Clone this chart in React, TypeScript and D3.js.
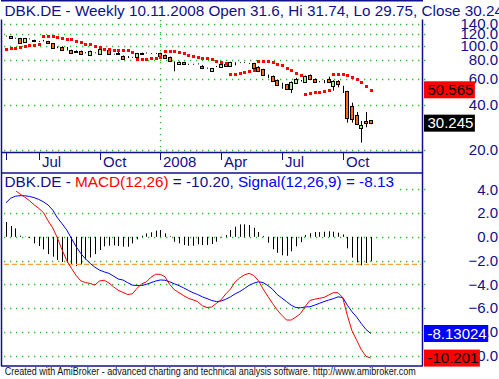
import React from "react";
import * as d3 from "d3";

// ---- data (weekly bars, DBK.DE) ----
const openP = [115.5,115.3,112,112,106,110.6,108.2,106.1,107.8,106.7,103.4,97.4,97.8,95.3,93,92,92,89.4,87.1,89.4,87.6,94.4,93.4,87.6,88.6,85.1,83.8,83.4,83.8,88.8,89,88.3,88.3,89,86.4,83.8,76.4,74.9,77.3,74.9,74.9,75.3,73.4,70.5,67.2,72.3,71.5,75.3,73,76.8,76.8,76.8,76,76,72.3,69.4,62.8,62.5,58.8,54.9,54.9,51.4,56.4,58.1,57.3,63.5,59.7,57.3,57.3,59.7,53.8,58.1,53.1,49.6,39.6,34.5,28,31.3,31.6];
const highP = [116.5,116,112.8,112.5,112.5,111.5,109.5,107,109,107.5,104,98.6,99,97.8,93.8,92.8,92.5,90.3,92.5,90,95.5,95.5,94,88.2,90.5,85.8,85,84,89.2,89.6,89.8,88.9,89,89.6,87,84.3,78.3,78.2,77.8,75.5,75.5,76,74,71.2,70.9,73,75.8,75.8,78,77.3,77.3,77.3,76.5,76.5,72.8,69.9,64,63,59.3,56.4,55.4,57.5,60.8,58.8,63,64,60.2,57.8,58.8,61.9,58.6,58.6,53.8,49.8,41.4,35.9,31.3,35.9,31.74];
const lowP = [115,111.5,111.3,104,105.5,110,106.5,105.5,106.5,103,96.5,96,92.8,92.6,89,89.5,88,88.8,86.8,88.8,87.2,93.8,88,87,86.4,81.3,82.5,82.8,83.4,87.9,88.5,87.8,87.8,85.2,82.8,78,67.2,74.5,74.5,74.3,74.3,74.8,70.2,70,66.5,71.8,71,72.3,72.6,73.8,76.3,76.3,75.5,70.8,67.7,63.4,60.5,57.8,54.3,51.4,51.1,48.1,55.9,57.5,56.8,59.7,57,56.8,56,56.7,49.9,52.5,48.1,30.5,30.5,29.7,22.4,28.4,29.75];
const closeP = [115.3,112,112,104.5,112,110.6,107.6,106.1,107.8,103.4,96.8,97.4,93.8,95.3,89.4,90,88.3,89.4,92,89.4,94.9,94.4,88.3,87.6,88,81.6,83.8,83.4,88.6,88.4,89,88.3,88.3,85.5,83.1,78.3,76.4,77.6,74.9,74.9,74.9,75.3,70.5,70.5,70.5,72.3,75.3,72.7,77.6,76.8,76.8,76.8,76,71.1,68,63.7,62.8,58.1,54.6,54.9,51.4,57,59.7,58.1,62.5,60,57.3,57.3,57.3,57,58.1,54.9,53.1,32.5,32.1,30,29.4,30.2,30.245];
const sarP = [94.4,95.8,96.3,97.4,98.9,100.4,100.4,101.9,116.4,116.4,115.7,114.5,112.8,111.1,110.1,107.8,105.1,102.9,101.9,99.3,97.3,95.3,95.3,93.4,93,93,93,90,80.9,80.9,80.9,82.1,82.1,83.4,91.5,91.5,91.5,90,88.6,86.7,85.3,84,82.7,82,80.9,79.1,78.1,76.8,64.3,64.3,65.9,66.6,68,68.4,78.5,78.5,78.5,77.3,74.8,73.8,70.8,68.4,65.6,63.2,47.5,48.1,48.8,48.8,49.4,50.2,64.3,64.3,64.3,63.2,61.3,59.5,56.8,53.3,50.565];
const macdV = [4.1,4.05,3.9,3.6,3.35,3.05,2.7,2.4,2.05,1.35,0.75,-0.1,-1.1,-2,-2.65,-3.25,-3.7,-3.85,-3.92,-4.06,-3.72,-3.65,-3.88,-4.2,-4.5,-4.67,-4.85,-4.8,-4.35,-3.95,-3.8,-3.4,-3.15,-3.15,-3.36,-4,-4.45,-4.7,-4.95,-5.17,-5.3,-5.45,-5.8,-5.95,-5.9,-5.6,-5.3,-4.8,-4.4,-3.8,-3.45,-3.2,-3.07,-3.25,-3.7,-4.4,-5,-5.6,-6.15,-6.6,-7,-7,-6.75,-6.45,-5.85,-5.35,-5.25,-5.17,-5.1,-4.9,-4.7,-4.7,-5.1,-6.6,-7.9,-8.7,-9.5,-10.05,-10.201];
const signalV = [2.87,3.25,3.42,3.46,3.46,3.4,3.3,3.15,2.95,2.68,2.25,1.6,1.1,0.57,-0.13,-0.83,-1.4,-1.85,-2.23,-2.55,-2.8,-2.95,-3.07,-3.3,-3.55,-3.63,-3.85,-4.06,-4.1,-4.1,-4,-3.86,-3.72,-3.63,-3.65,-3.78,-3.95,-4.1,-4.3,-4.5,-4.7,-4.85,-5.05,-5.2,-5.35,-5.45,-5.4,-5.25,-5.05,-4.8,-4.6,-4.35,-4.08,-3.9,-3.78,-3.85,-4.1,-4.4,-4.85,-5.15,-5.45,-5.75,-5.95,-5.97,-5.9,-5.88,-5.75,-5.6,-5.45,-5.32,-5.2,-5.05,-5.1,-5.75,-6.3,-6.75,-7.3,-7.8,-8.13024];
const histV = [1.25,0.91,0.71,0.1,0.02,-0.1,-0.55,-0.77,-1.05,-1.45,-1.67,-1.95,-2.12,-2.18,-2.37,-2.46,-2.32,-1.9,-1.73,-1.45,-1.11,-0.8,-0.75,-0.72,-0.77,-0.83,-0.83,-0.55,-0.21,0.1,0.29,0.38,0.52,0.57,0.29,0.05,-0.41,-0.55,-0.69,-0.75,-0.75,-0.63,-0.69,-0.69,-0.6,-0.41,-0.05,0.15,0.57,0.85,1.05,1.05,1,0.77,0.4,0.07,-0.49,-1.05,-1.35,-1.55,-1.6,-1.22,-0.8,-0.45,0.15,0.3,0.4,0.4,0.43,0.47,0.43,0.35,0.2,-0.97,-1.75,-2.15,-2.4,-2.2,-2.05];
const priceTicks = [140, 120, 100, 80, 60, 40, 20];
const macdTicks = [4, 2, 0, -2, -4, -6, -8, -10];
const dashLevel = -2.31;
const firstWeek = new Date(2007, 4, 18);
const lastDate = new Date(2008, 10, 10);

const FONT = "'Liberation Sans', Arial, sans-serif";
const NAVY = "#10108c";
const GRID = "#22c422";

function textW(s: string, font: string) {
  const c = document.createElement("canvas").getContext("2d");
  if (!c) return s.length * 8;
  c.font = font;
  return c.measureText(s).width;
}

export default function App() {
  const n = closeP.length;
  const x = d3.scaleLinear().domain([0, n - 1]).range([6, 370.7]);
  const yP = d3.scaleLog().domain([20, 140]).range([150, 23.7]);
  const yM = d3.scaleLinear().domain([-10, 4]).range([355.7, 189.3]);
  const px = (i: number) => Math.round(x(i));

  const dates = d3.range(n - 1).map((k) => d3.timeWeek.offset(firstWeek, k)).concat([lastDate]);
  const xticks: { i: number; label: string }[] = [{ i: 0, label: "" }];
  for (let i = 1; i < n; i++) {
    const m = dates[i].getMonth();
    if (m !== dates[i - 1].getMonth() && m % 3 === 0) {
      xticks.push({ i, label: m === 0 ? d3.timeFormat("%Y")(dates[i]) : d3.timeFormat("%b")(dates[i]) });
    }
  }

  const line = d3.line<number>().x((_, i) => x(i)).y((d) => yM(d));
  const last = n - 1;
  const fmt1 = d3.format(".1f");
  const font15 = `15px 'Liberation Sans'`;

  const boxes = [
    { v: sarP[last], y: yP(sarP[last]), bg: "#ff0000", fg: "#000000" },
    { v: closeP[last], y: yP(closeP[last]), bg: "#000000", fg: "#ffffff" },
    { v: signalV[last], y: yM(signalV[last]), bg: "#0000ff", fg: "#ffffff" },
    { v: macdV[last], y: yM(macdV[last]), bg: "#ff0000", fg: "#000000" },
  ];

  const title = `DBK.DE - Weekly ${d3.timeFormat("%d.%m.%Y")(lastDate)} Open ${openP[last]}, Hi ${highP[last]}, Lo ${lowP[last]}, Close ${closeP[last]}`;

  return (
    <svg width={499} height={379} style={{ position: "absolute", left: 0, top: 0, background: "#fff" }} fontFamily={FONT}>
      <defs>
        <clipPath id="cpTop"><rect x={2} y={1} width={419} height={150} /></clipPath>
        <clipPath id="cpM"><rect x={2} y={174} width={419} height={191} /></clipPath>
      </defs>
      <rect x={0} y={0} width={499} height={379} fill="#fff" />

      {/* grids top */}
      {priceTicks.map((t) => (
        <line key={"gp" + t} x1={4} x2={428} y1={Math.round(yP(t)) + 0.5} y2={Math.round(yP(t)) + 0.5} stroke={GRID} strokeWidth={1.3} strokeDasharray="1.3 4.7" />
      ))}
      {xticks.filter((t) => t.label && /^\d{4}$/.test(t.label)).map((t) => (
        <line key={"gv" + t.i} x1={px(t.i) + 0.5} x2={px(t.i) + 0.5} y1={2} y2={151} stroke={GRID} strokeWidth={1.3} strokeDasharray="1.3 4.7" />
      ))}
      {/* grids macd */}
      {macdTicks.map((t) => (
        <line key={"gm" + t} x1={4} x2={428} y1={Math.round(yM(t)) + 0.5} y2={Math.round(yM(t)) + 0.5} stroke={GRID} strokeWidth={1.3} strokeDasharray="1.3 4.7" />
      ))}

      {/* candles */}
      <g clipPath="url(#cpTop)">
        {closeP.map((c, i) => {
          const k = px(i);
          const o = openP[i];
          const top = Math.round(yP(Math.max(o, c)));
          const bot = Math.round(yP(Math.min(o, c)));
          const fill = c > o ? "#a8f0a0" : c < o ? "#ff6a1a" : "#000";
          return (
            <g key={"c" + i}>
              <line x1={k + 0.5} x2={k + 0.5} y1={yP(highP[i])} y2={yP(lowP[i])} stroke="#000" strokeWidth={1} />
              <rect x={k - 1.5} y={top + 0.5} width={3} height={Math.max(0, bot - top)} fill={fill} stroke="#000" strokeWidth={1} />
            </g>
          );
        })}
        {sarP.map((s, i) => (
          <rect key={"s" + i} x={px(i) - 1} y={Math.round(yP(s)) - 1} width={3} height={3} fill="#ff0000" />
        ))}
      </g>

      {/* macd */}
      <g clipPath="url(#cpM)">
        {histV.map((h, i) => (
          <line key={"h" + i} x1={px(i) + 0.5} x2={px(i) + 0.5} y1={yM(0)} y2={yM(h)} stroke="#000" strokeWidth={1} />
        ))}
        <line x1={4} x2={422} y1={yM(dashLevel)} y2={yM(dashLevel)} stroke="#ff9f40" strokeWidth={1.3} strokeDasharray="5 3" />
        <path d={line(signalV) || ""} fill="none" stroke="#0000ff" strokeWidth={1} />
        <path d={line(macdV) || ""} fill="none" stroke="#ff0000" strokeWidth={1} />
      </g>

      {/* titles with opaque background */}
      <rect x={0} y={1.5} width={499} height={18} fill="#fff" />
      <text x={4.5} y={15.5} fontSize={15} fill={NAVY} textLength={507} lengthAdjust="spacingAndGlyphs">{title}</text>
      <rect x={2.5} y={174} width={394} height={17} fill="#fff" />
      <text x={4.5} y={186.5} fontSize={15} fill={NAVY} textLength={389.5} lengthAdjust="spacingAndGlyphs">
        <tspan>DBK.DE - </tspan>
        <tspan fill="#ff0000">MACD(12,26)</tspan>
        <tspan>{` = ${macdV[last].toFixed(2)}, `}</tspan>
        <tspan fill="#0000ff">{`Signal(12,26,9) = ${signalV[last].toFixed(2)}`}</tspan>
      </text>

      {/* borders */}
      <g stroke={NAVY} strokeWidth={1.5} fill="none">
        <line x1={1.5} x2={1.5} y1={19.5} y2={366} />
        <line x1={422.5} x2={422.5} y1={19.5} y2={366} />
        <line x1={1} x2={423} y1={0.75} y2={0.75} />
        <line x1={1} x2={423} y1={152.5} y2={152.5} />
        <line x1={1} x2={423} y1={173} y2={173} />
        <line x1={1} x2={423} y1={366} y2={366} />
      </g>

      {/* x axis */}
      {xticks.map((t) => (
        <g key={"xt" + t.i}>
          <line x1={px(t.i) + 0.5} x2={px(t.i) + 0.5} y1={153} y2={160} stroke={NAVY} strokeWidth={1} />
          <text x={px(t.i) + 3} y={167.3} fontSize={15} fill={NAVY}>{t.label}</text>
        </g>
      ))}

      {/* right axis labels */}
      {priceTicks.map((t) => (
        <text key={"pl" + t} x={498} y={yP(t) + 5.3} fontSize={15} fill={NAVY} textAnchor="end">{fmt1(t)}</text>
      ))}
      {macdTicks.map((t) => (
        <text key={"ml" + t} x={498} y={yM(t) + 5.3} fontSize={15} fill={NAVY} textAnchor="end">{fmt1(t)}</text>
      ))}

      {/* value boxes */}
      {boxes.map((b, j) => {
        const s = String(b.v);
        const w = textW(s, font15);
        return (
          <g key={"b" + j}>
            <rect x={424} y={b.y - 8.5} width={w + 5} height={17} fill={b.bg} />
            <text x={427.5} y={b.y + 5.3} fontSize={15} fill={b.fg}>{s}</text>
          </g>
        );
      })}

      <text x={4.7} y={375} fontSize={11} fill="#111" textLength={411} lengthAdjust="spacingAndGlyphs">
        Created with AmiBroker - advanced charting and technical analysis software. http://www.amibroker.com
      </text>
    </svg>
  );
}
